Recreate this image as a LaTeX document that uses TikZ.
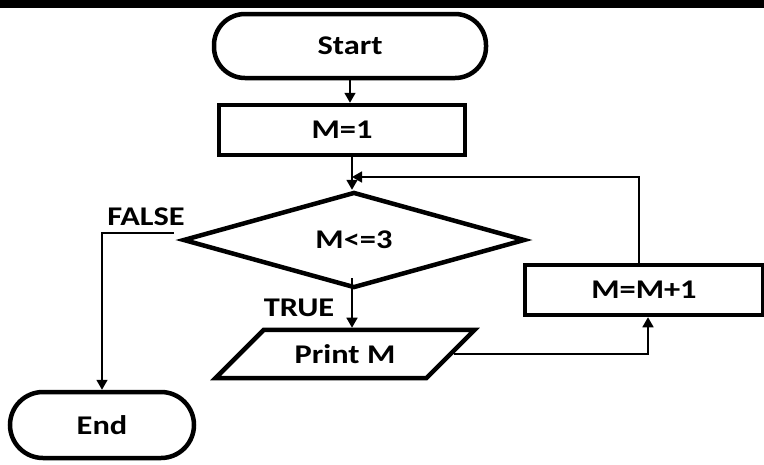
\documentclass[tikz,border=0pt]{standalone}
\usepackage{fontspec}
\setmainfont{Carlito}[FakeStretch=1.2]
\usetikzlibrary{shapes.geometric,arrows.meta}

\begin{document}
\begin{tikzpicture}[x=1pt,y=-1pt,
    every node/.style={font=\fontsize{27}{30}\selectfont\bfseries},
    box/.style={draw,line width=4.5pt,inner sep=0pt},
    term/.style={box,rounded corners=31pt},
    link/.style={line width=1.7pt},
    arr/.style={link,-{Triangle[length=10pt,width=11pt]}}]
			\useasboundingbox (0,0) rectangle (764,464);
			\fill (0,0) rectangle (764,8);
			\node[term,minimum width=272,minimum height=64] (start) at (350,46) {Start};
			\node[box,minimum width=246,minimum height=50] (init) at (342,130) {M=1};
			\node[box,shape=diamond,aspect=3.5,minimum width=342,minimum height=96] (test) at (354,240) {M<=3};
			\node[box,shape=trapezium,trapezium left angle=45,trapezium right angle=135,
			      trapezium stretches body,inner xsep=0pt,inner ysep=14.5pt,minimum width=259] (print) at (345,354) {Print M};
			\node[box,minimum width=238,minimum height=50] (inc) at (644,290) {M=M+1};
			\node[term,minimum width=184,minimum height=66,rounded corners=33pt] (end) at (102,425) {End};
			\node (false) at (146,217) {FALSE};
			\node (true) at (299,308) {TRUE};
			\coordinate (merge) at (352,177);
			\draw[arr] (start.south) -- (start.south |- init.north);
			\draw[arr] (init.south -| merge) -- (test.north -| merge);
			\draw[arr] ([xshift=-5pt]inc.north) |- (merge);
			\draw[arr] ([yshift=12pt]test.south -| merge) -- (print.north -| merge);
			\draw[arr] (print.east) -| ([xshift=4pt]inc.south);
			\draw[arr] ([shift={(-7,-7)}]test.west) -| (end.north);
		\end{tikzpicture}
\end{document}
